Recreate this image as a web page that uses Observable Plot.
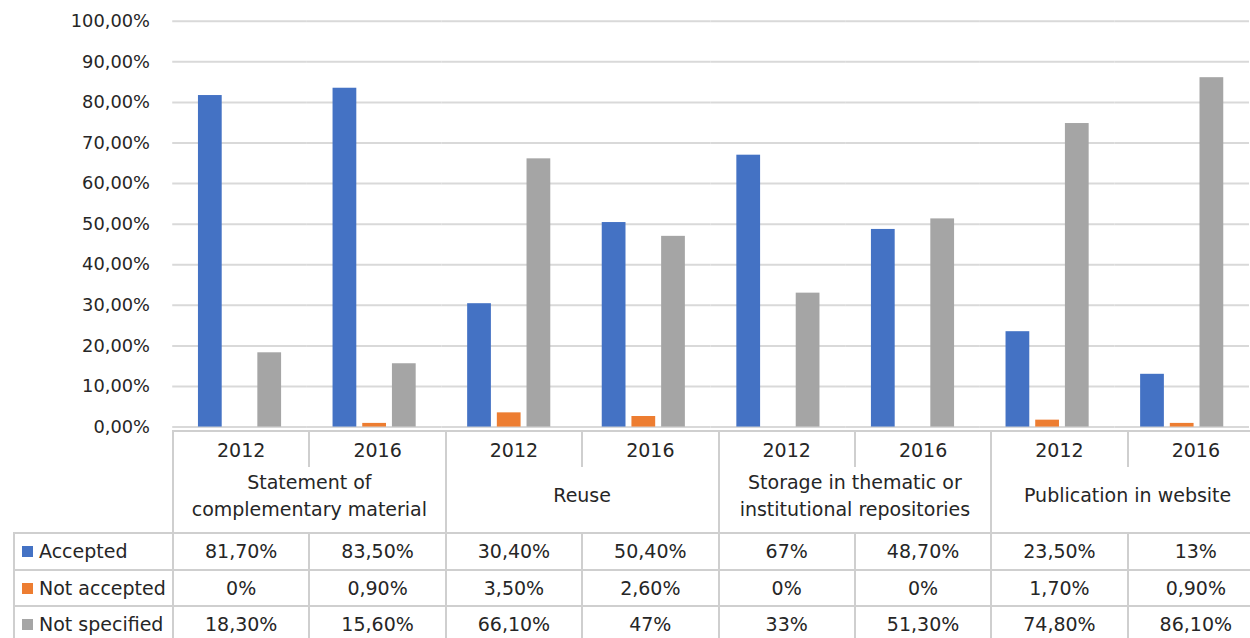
<!DOCTYPE html>
<html>
<head>
<meta charset="utf-8">
<script src="https://cdn.jsdelivr.net/npm/d3@7"></script>
<script src="https://cdn.jsdelivr.net/npm/@observablehq/plot@0.6"></script>
<style>
  html, body { margin: 0; padding: 0; background: #fff; overflow: hidden; }
  #wrap { position: relative; width: 1250px; height: 638px; overflow: hidden; font-family: "DejaVu Sans", sans-serif; color: #262626; }
  #chart { position: absolute; left: 0; top: 0; }
  #tbl { position: absolute; left: 13px; top: 430px; border-collapse: collapse; table-layout: fixed; font-size: 19px; color: #262626; }
  #tbl td { padding: 0; text-align: center; vertical-align: middle; white-space: nowrap; overflow: visible; }
  #tbl td.b { border: 2px solid #cfcfcf; }
  #tbl td.lab { text-align: left; padding-left: 7px; }
  .mk { display: inline-block; width: 11px; height: 11px; margin-right: 6px; vertical-align: 1px; }
</style>
</head>
<body>
<div id="wrap"><div id="chart"></div></div>
<script>
const categories = ["Statement of\ncomplementary material", "Reuse", "Storage in thematic or\ninstitutional repositories", "Publication in website"];
const years = ["2012", "2016"];
const series = ["Accepted", "Not accepted", "Not specified"];
const accepted = [81.7, 83.5, 30.4, 50.4, 67, 48.7, 23.5, 13];
const notAccepted = [0, 0.9, 3.5, 2.6, 0, 0, 1.7, 0.9];
const notSpecified = [18.3, 15.6, 66.1, 47, 33, 51.3, 74.8, 86.1];
const colors = ["#4472C4", "#ED7D31", "#A5A5A5"];
const yTicks = [0, 10, 20, 30, 40, 50, 60, 70, 80, 90, 100];

const seriesValues = [accepted, notAccepted, notSpecified];
const nCols = categories.length * years.length;
const data = [];
for (let c = 0; c < nCols; c++) {
  series.forEach((s, si) => data.push({col: c, series: s, value: seriesValues[si][c]}));
}

const fmtAxis = d => d.toFixed(2).replace(".", ",") + "%";
const fmtCell = v => (Number.isInteger(v) ? String(v) : v.toFixed(2).replace(".", ",")) + "%";

const plot = Plot.plot({
  width: 1263,
  height: 445,
  marginLeft: 172,
  marginRight: 0,
  marginTop: 21,
  marginBottom: 14,
  style: {fontFamily: "DejaVu Sans", fontSize: "18px", color: "#262626", background: "transparent"},
  fx: {domain: d3.range(nCols), padding: 0, axis: null},
  x: {domain: series, paddingInner: 0.213, paddingOuter: 0.846, axis: null},
  y: {domain: [0, 100], axis: null},
  color: {domain: series, range: colors},
  marks: [
    Plot.gridY(yTicks, {stroke: "#d9d9d9", strokeOpacity: 1, strokeWidth: 2}),
    Plot.axisY(yTicks, {tickSize: 0, tickPadding: 23, tickFormat: fmtAxis, fontSize: 18, label: null}),
    Plot.barY(data, {fx: "col", x: "series", y: "value", fill: "series"})
  ]
});
document.getElementById("chart").appendChild(plot);

// Data table below the chart
const colW = 1091 / nCols;
const tbl = document.createElement("table");
tbl.id = "tbl";
const cg = document.createElement("colgroup");
const c0 = document.createElement("col"); c0.style.width = "159px"; cg.appendChild(c0);
for (let c = 0; c < nCols; c++) { const col = document.createElement("col"); col.style.width = colW + "px"; cg.appendChild(col); }
tbl.appendChild(cg);
tbl.style.width = (159 + 1091) + "px";

const line = "2px solid #cfcfcf";
// Year row
const r1 = tbl.insertRow(); r1.style.height = "36px";
const e1 = r1.insertCell(); e1.style.borderRight = line;
for (let c = 0; c < nCols; c++) {
  const td = r1.insertCell();
  td.textContent = years[c % years.length];
  td.style.borderTop = line;
  td.style.borderLeft = line;
  td.style.borderRight = line;
}
// Category row
const r2 = tbl.insertRow(); r2.style.height = "66px";
const e2 = r2.insertCell(); e2.style.borderRight = line;
categories.forEach(cat => {
  const td = r2.insertCell();
  td.colSpan = years.length;
  td.style.borderLeft = line;
  td.style.borderRight = line;
  td.style.borderBottom = line;
  td.style.whiteSpace = "pre";
  td.style.lineHeight = "27px";
  td.style.paddingBottom = "8px";
  td.textContent = cat;
});
// Series rows
series.forEach((s, si) => {
  const r = tbl.insertRow(); r.style.height = "36.5px";
  const lab = r.insertCell();
  lab.className = "b lab";
  const mk = document.createElement("span"); mk.className = "mk"; mk.style.background = colors[si];
  lab.appendChild(mk);
  lab.appendChild(document.createTextNode(s));
  seriesValues[si].forEach(v => {
    const td = r.insertCell();
    td.className = "b";
    td.textContent = fmtCell(v);
  });
});
document.getElementById("wrap").appendChild(tbl);
</script>
</body>
</html>
